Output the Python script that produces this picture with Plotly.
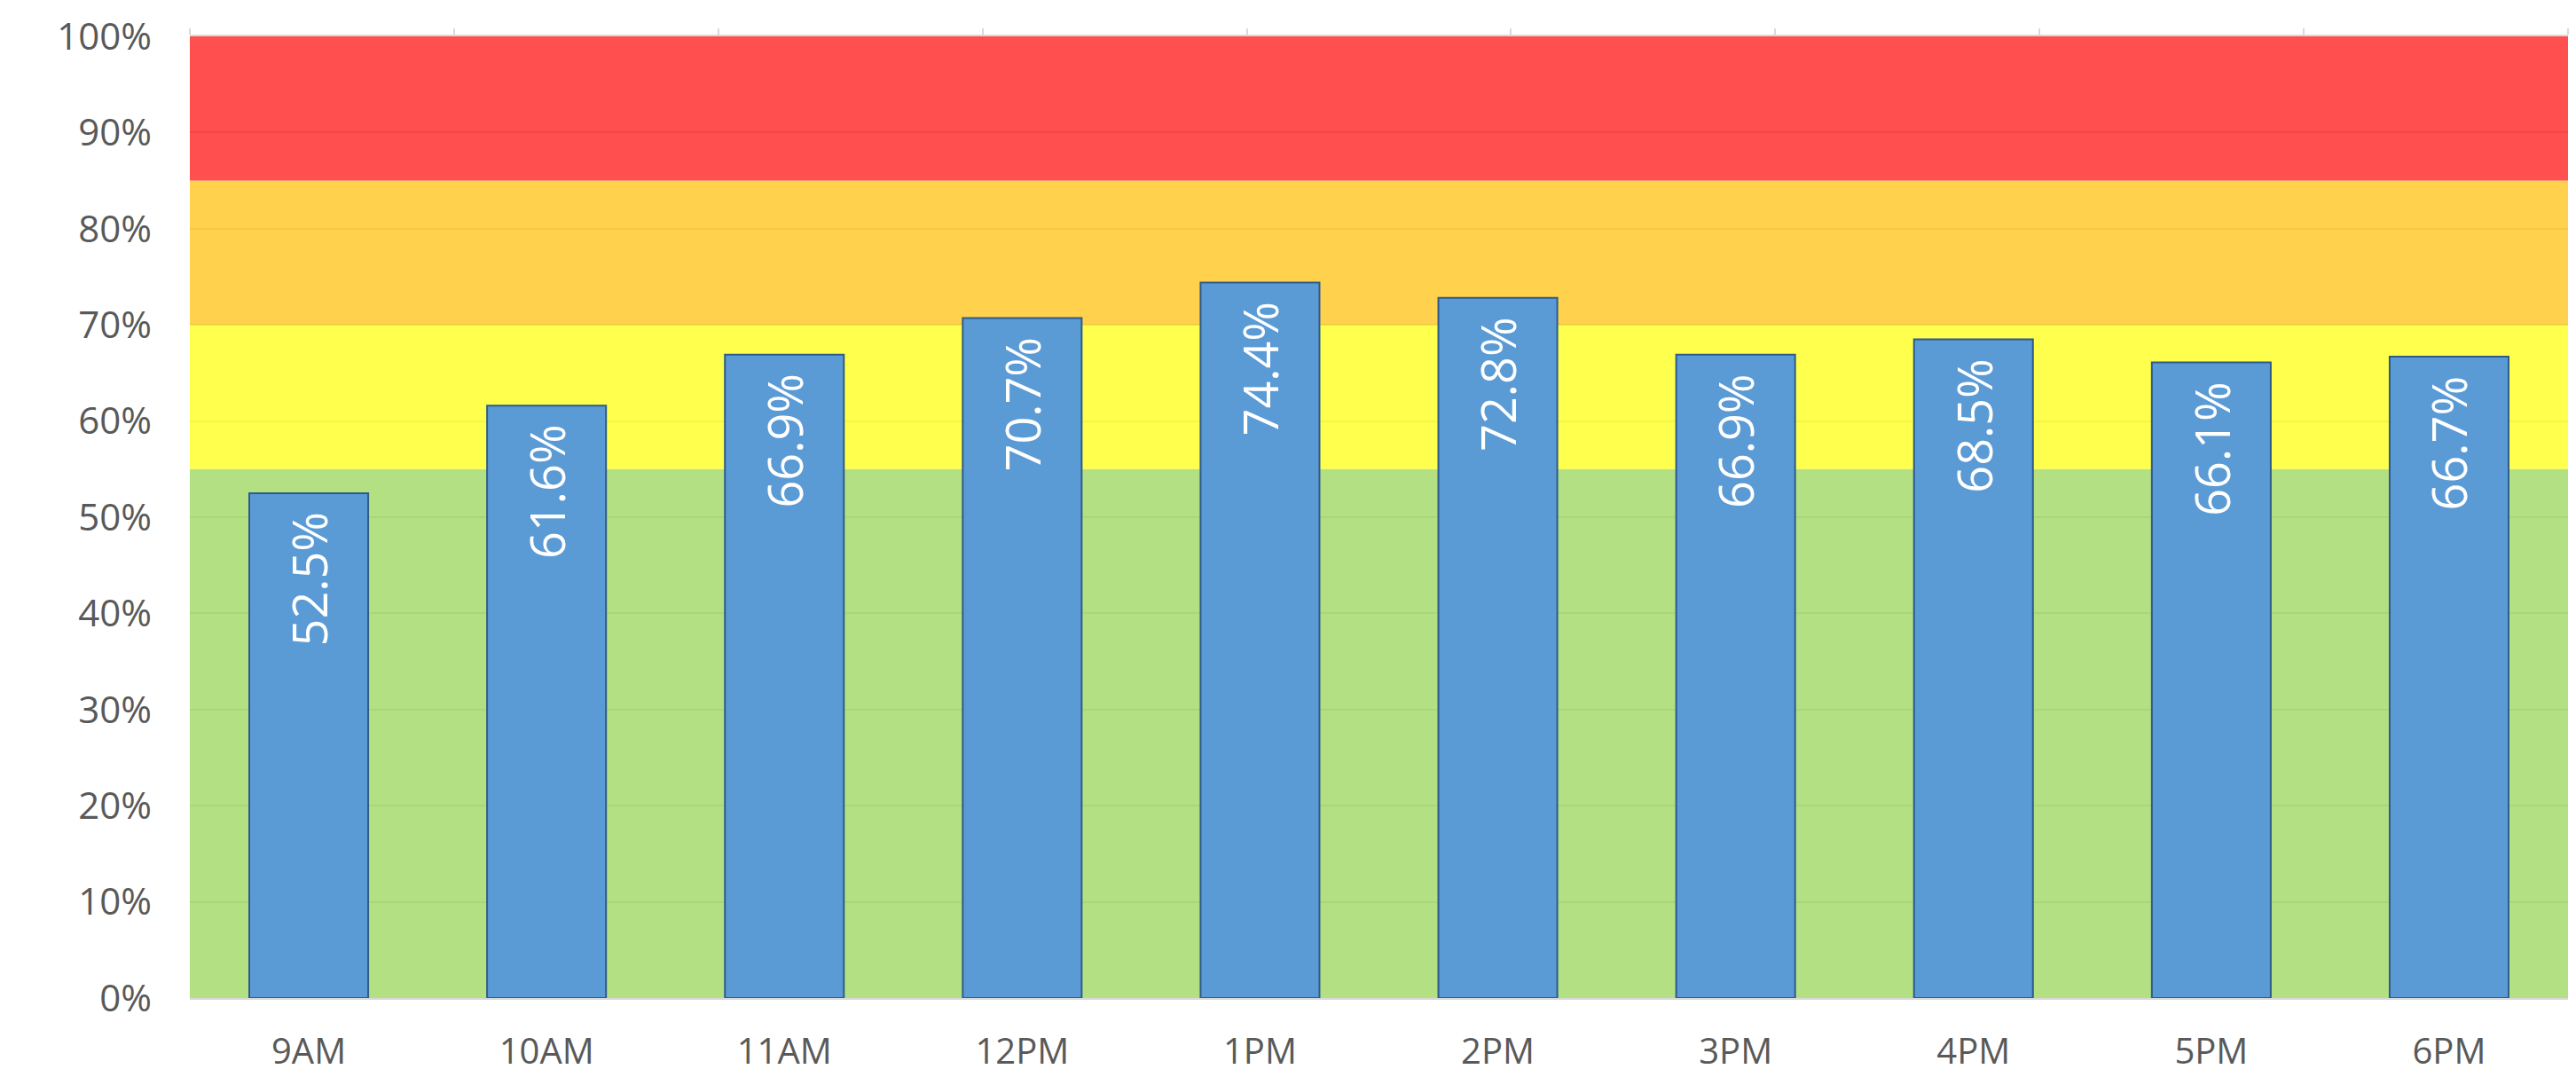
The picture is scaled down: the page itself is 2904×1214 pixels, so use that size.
import plotly.graph_objects as go

# Hourly utilisation, in percent
hours = ["9AM", "10AM", "11AM", "12PM", "1PM", "2PM", "3PM", "4PM", "5PM", "6PM"]
utilisation = [52.5, 61.6, 66.9, 70.7, 74.4, 72.8, 66.9, 68.5, 66.1, 66.7]

# Background threshold bands, stacked from 0 to 100 %
band_green = [55, 55, 55, 55, 55, 55, 55, 55, 55, 55]
band_yellow = [15, 15, 15, 15, 15, 15, 15, 15, 15, 15]
band_orange = [15, 15, 15, 15, 15, 15, 15, 15, 15, 15]
band_red = [15, 15, 15, 15, 15, 15, 15, 15, 15, 15]

band_series = [
    ("Green", band_green, "rgba(167,219,110,0.85)"),
    ("Yellow", band_yellow, "rgba(255,255,46,0.85)"),
    ("Orange", band_orange, "rgba(255,201,46,0.85)"),
    ("Red", band_red, "rgba(255,48,48,0.85)"),
]

FONT = "Open Sans"
AXIS_GREY = "#D9D9D9"
TEXT_GREY = "#595959"

fig = go.Figure()

for name, vals, col in band_series:
    fig.add_trace(go.Scatter(
        x=hours, y=vals, name=name, mode="lines",
        stackgroup="bands", line=dict(width=0), fillcolor=col,
        xaxis="x", yaxis="y", hoverinfo="skip", showlegend=False,
    ))

fig.add_trace(go.Bar(
    x=hours, y=utilisation, xaxis="x2", yaxis="y",
    marker=dict(color="#5B9BD5", line=dict(color="#2E5B8A", width=2)),
    showlegend=False,
))

for h, v in zip(hours, utilisation):
    fig.add_annotation(
        x=h, y=v, xref="x2", yref="y", text=f"{v:.1f}%",
        textangle=-90, showarrow=False, yanchor="top", xanchor="center",
        yshift=-20, font=dict(family=FONT, size=54, color="white"),
    )

fig.update_layout(
    width=2904, height=1214,
    margin=dict(l=214, r=9, t=41, b=89),
    paper_bgcolor="white", plot_bgcolor="white",
    bargap=0.5,
    xaxis=dict(
        type="category", range=[0, 9], side="top", automargin=False,
        showticklabels=False, ticks="outside", ticklen=7, tickwidth=2,
        tickcolor=AXIS_GREY, showline=True, linecolor=AXIS_GREY, linewidth=2,
        showgrid=False, zeroline=False,
    ),
    xaxis2=dict(
        type="category", overlaying="x", side="bottom", anchor="y",
        automargin=False,
        showline=True, linecolor=AXIS_GREY, linewidth=2,
        ticks="", showgrid=False, zeroline=False,
        tickfont=dict(family=FONT, size=40, color=TEXT_GREY),
        ticklabelstandoff=24,
    ),
    yaxis=dict(
        range=[0, 100], dtick=10, ticksuffix="%", automargin=False,
        showgrid=True, gridcolor="#BBBBBB", gridwidth=2,
        zeroline=False, showline=False, ticks="",
        tickfont=dict(family=FONT, size=42, color=TEXT_GREY),
        ticklabelstandoff=42,
    ),
)

fig.write_html("out.html")
